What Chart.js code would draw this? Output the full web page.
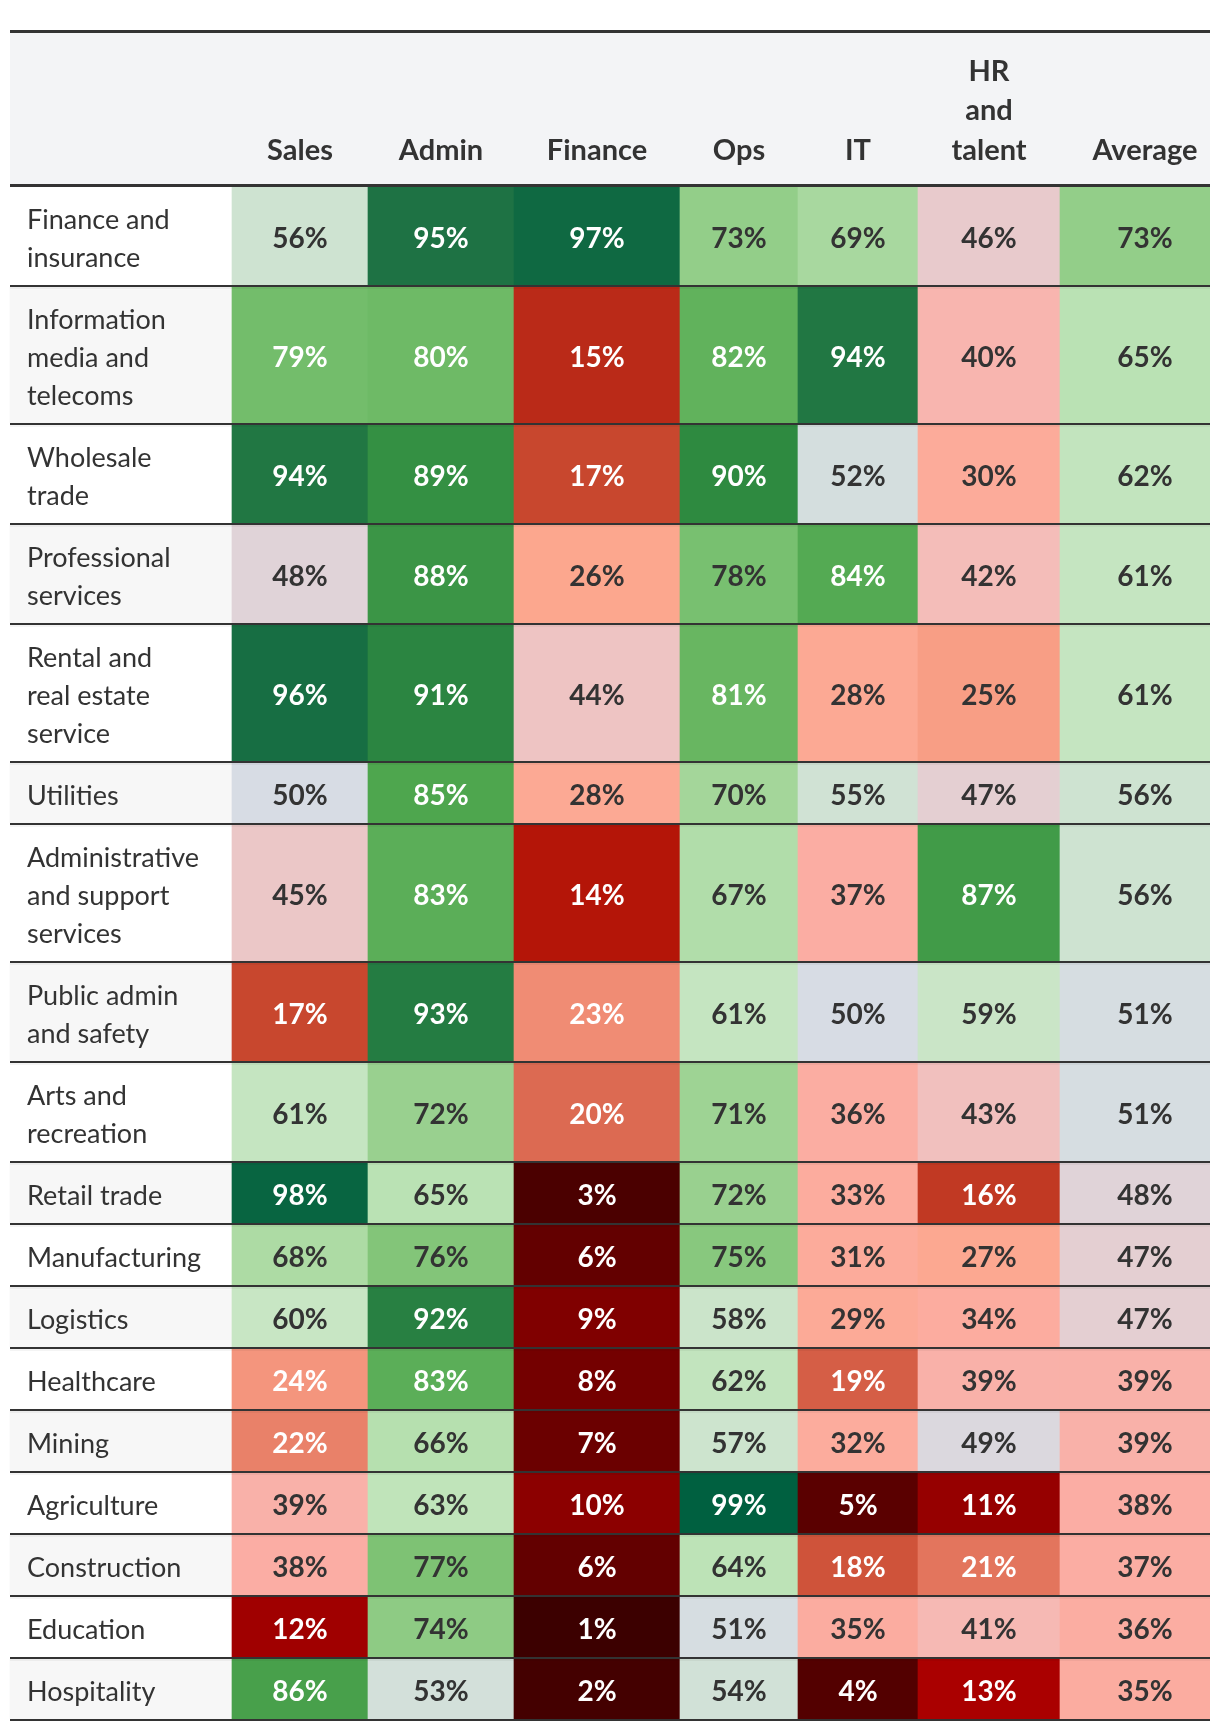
<!DOCTYPE html>
<html><head><meta charset="utf-8">
<script src="https://cdn.jsdelivr.net/npm/chart.js@4.4.1/dist/chart.umd.min.js"></script>
<style>
html,body{margin:0;padding:0;background:#fff;}
#wrap{position:absolute;left:0;top:0;width:1210px;height:1732px;}
</style></head><body>
<div id="wrap"><canvas id="c" width="1210" height="1732"></canvas></div>
<script>
// ---------- DATA ----------
const categories = [
  ['Finance and','insurance'],
  ['Information','media and','telecoms'],
  ['Wholesale','trade'],
  ['Professional','services'],
  ['Rental and','real estate','service'],
  ['Utilities'],
  ['Administrative','and support','services'],
  ['Public admin','and safety'],
  ['Arts and','recreation'],
  ['Retail trade'],
  ['Manufacturing'],
  ['Logistics'],
  ['Healthcare'],
  ['Mining'],
  ['Agriculture'],
  ['Construction'],
  ['Education'],
  ['Hospitality']
];
const columnLabels = ['Sales','Admin','Finance','Ops','IT',['HR','and','talent'],'Average'];
const sales   = [56,79,94,48,96,50,45,17,61,98,68,60,24,22,39,38,12,86];
const admin   = [95,80,89,88,91,85,83,93,72,65,76,92,83,66,63,77,74,53];
const finance = [97,15,17,26,44,28,14,23,20,3,6,9,8,7,10,6,1,2];
const ops     = [73,82,90,78,81,70,67,61,71,72,75,58,62,57,99,64,51,54];
const it      = [69,94,52,84,28,55,37,50,36,33,31,29,19,32,5,18,35,4];
const hr      = [46,40,30,42,25,47,87,59,43,16,27,34,39,49,11,21,41,13];
const average = [73,65,62,61,61,56,56,51,51,48,47,47,39,39,38,37,36,35];
const series = [sales, admin, finance, ops, it, hr, average];

// ---------- LAYOUT (pixel units of the scales) ----------
const colEdges = [10,232,368,514,680,798,918,1060,1230];
const TABLE_L = 10, TABLE_R = 1210;
const HEAD_TOP = 30, HEAD_BOTTOM = 184, ROWS_TOP = 187;
const LINE = 37.8;
const pitchFor = n => n === 1 ? 62 : (n === 2 ? 100 : 138);
const rowTops = [], pitches = [], centers = [];
(function(){
  let y = ROWS_TOP;
  categories.forEach(c => {
    const p = pitchFor(c.length);
    rowTops.push(y); pitches.push(p); centers.push(y + (p - 2) / 2);
    y += p;
  });
})();

// ---------- COLOUR SCALE ----------
const anchors = [
  [1,'#3c0000'],[5,'#5a0000'],[8,'#740000'],[10,'#8c0000'],[13,'#aa0000'],[14,'#b41508'],
  [15,'#ba2a18'],[17,'#c8472e'],[20,'#dc6a52'],[23,'#f08c74'],[26,'#fca78e'],
  [30,'#fcab9a'],[38,'#fbada4'],[42,'#f4bdb9'],[46,'#e8cacc'],[50,'#d7dce4'],
  [55,'#d0e2d4'],[60,'#c8e6c4'],[65,'#bae2b4'],[70,'#a4d69a'],[75,'#88c87e'],
  [80,'#6eba66'],[85,'#4ea64e'],[90,'#2e8a40'],[95,'#1e7244'],[99,'#006040']
];
function hexRgb(h){return [1,3,5].map(i=>parseInt(h.slice(i,i+2),16));}
function colorFor(v){
  if (v <= anchors[0][0]) return anchors[0][1];
  for (let k = 1; k < anchors.length; k++) {
    if (v <= anchors[k][0]) {
      const a = anchors[k-1], b = anchors[k];
      const t = (v - a[0]) / (b[0] - a[0]);
      const ca = hexRgb(a[1]), cb = hexRgb(b[1]);
      const c = ca.map((x,i)=>Math.round(x + (cb[i]-x)*t));
      return 'rgb(' + c.join(',') + ')';
    }
  }
  return anchors[anchors.length-1][1];
}
const textColorFor = v => (v <= 24 || v >= 79) ? '#ffffff' : '#333333';

// ---------- DATASETS ----------
const datasets = categories.map((cat, i) => ({
  data: [{y: centers[i], x: [colEdges[0], colEdges[1]]}]
    .concat(series.map((s, j) => ({y: centers[i], x: [colEdges[j+1], colEdges[j+2]]}))),
  backgroundColor: [i % 2 === 0 ? '#ffffff' : '#f7f7f7'].concat(series.map(s => colorFor(s[i]))),
  barThickness: pitches[i] - 2,
  grouped: false,
  borderWidth: 0
}));

const FONT = 'Lato, "Noto Sans", sans-serif';

const tablePlugin = {
  id: 'tablePlugin',
  beforeDatasetsDraw(chart) {
    const ctx = chart.ctx, xs = chart.scales.x, ys = chart.scales.y;
    const L = xs.getPixelForValue(TABLE_L), R = xs.getPixelForValue(TABLE_R);
    ctx.save();
    ctx.fillStyle = '#f3f4f6';
    ctx.fillRect(L, ys.getPixelForValue(HEAD_TOP), R - L, ys.getPixelForValue(HEAD_BOTTOM) - ys.getPixelForValue(HEAD_TOP));
    ctx.restore();
  },
  afterDatasetsDraw(chart) {
    const ctx = chart.ctx, xs = chart.scales.x, ys = chart.scales.y;
    const L = xs.getPixelForValue(TABLE_L), R = xs.getPixelForValue(TABLE_R);
    ctx.save();
    // top & header borders
    ctx.fillStyle = '#333333';
    ctx.fillRect(L, ys.getPixelForValue(HEAD_TOP), R - L, 3);
    ctx.fillRect(L, ys.getPixelForValue(HEAD_BOTTOM), R - L, 3);
    // row borders
    categories.forEach((c, i) => {
      const yb = ys.getPixelForValue(rowTops[i] + pitches[i] - 2);
      ctx.fillStyle = '#333333';
      ctx.fillRect(L, yb, R - L, 2);
      if (i < categories.length - 1) {
        ctx.fillStyle = 'rgba(0,0,0,0.045)';
        ctx.fillRect(L, yb + 2, R - L, 2);
      }
    });
    // header text
    ctx.font = '700 29px ' + FONT;
    ctx.fillStyle = '#333333';
    ctx.textAlign = 'center';
    ctx.textBaseline = 'alphabetic';
    columnLabels.forEach((lab, j) => {
      const lines = Array.isArray(lab) ? lab : [lab];
      const cx = (xs.getPixelForValue(colEdges[j+1]) + xs.getPixelForValue(colEdges[j+2])) / 2;
      const last = ys.getPixelForValue(160);
      lines.forEach((ln, k) => {
        ctx.fillText(ln, cx, last - (lines.length - 1 - k) * 39.7);
      });
    });
    // row labels and values
    categories.forEach((lines, i) => {
      const cy = ys.getPixelForValue(centers[i]);
      ctx.font = '400 27px ' + FONT;
      ctx.fillStyle = '#333333';
      ctx.textAlign = 'left';
      lines.forEach((ln, k) => {
        ctx.fillText(ln, xs.getPixelForValue(27), cy + (k - (lines.length - 1) / 2) * LINE + 12);
      });
      const meta = chart.getDatasetMeta(i);
      ctx.font = '700 28px ' + FONT;
      ctx.textAlign = 'center';
      series.forEach((s, j) => {
        const el = meta.data[j+1];
        const p = el.getProps(['x','base','y'], true);
        ctx.fillStyle = textColorFor(s[i]);
        ctx.fillText(s[i] + '%', (p.x + p.base) / 2, p.y + 12);
      });
    });
    ctx.restore();
  }
};

function build(){
  new Chart(document.getElementById('c'), {
    type: 'bar',
    data: { datasets },
    options: {
      indexAxis: 'y',
      responsive: false,
      animation: false,
      events: [],
      layout: { padding: 0 },
      plugins: { legend: { display: false }, tooltip: { enabled: false } },
      scales: {
        x: { type: 'linear', min: 0, max: 1210, offset: false, display: false },
        y: { type: 'linear', min: 0, max: 1732, reverse: true, offset: false, display: false }
      }
    },
    plugins: [tablePlugin]
  });
}
if (document.fonts && document.fonts.load) {
  Promise.all([
    document.fonts.load('400 27px Lato'),
    document.fonts.load('700 28px Lato')
  ]).then(build, build);
} else { build(); }
</script>
</body></html>
